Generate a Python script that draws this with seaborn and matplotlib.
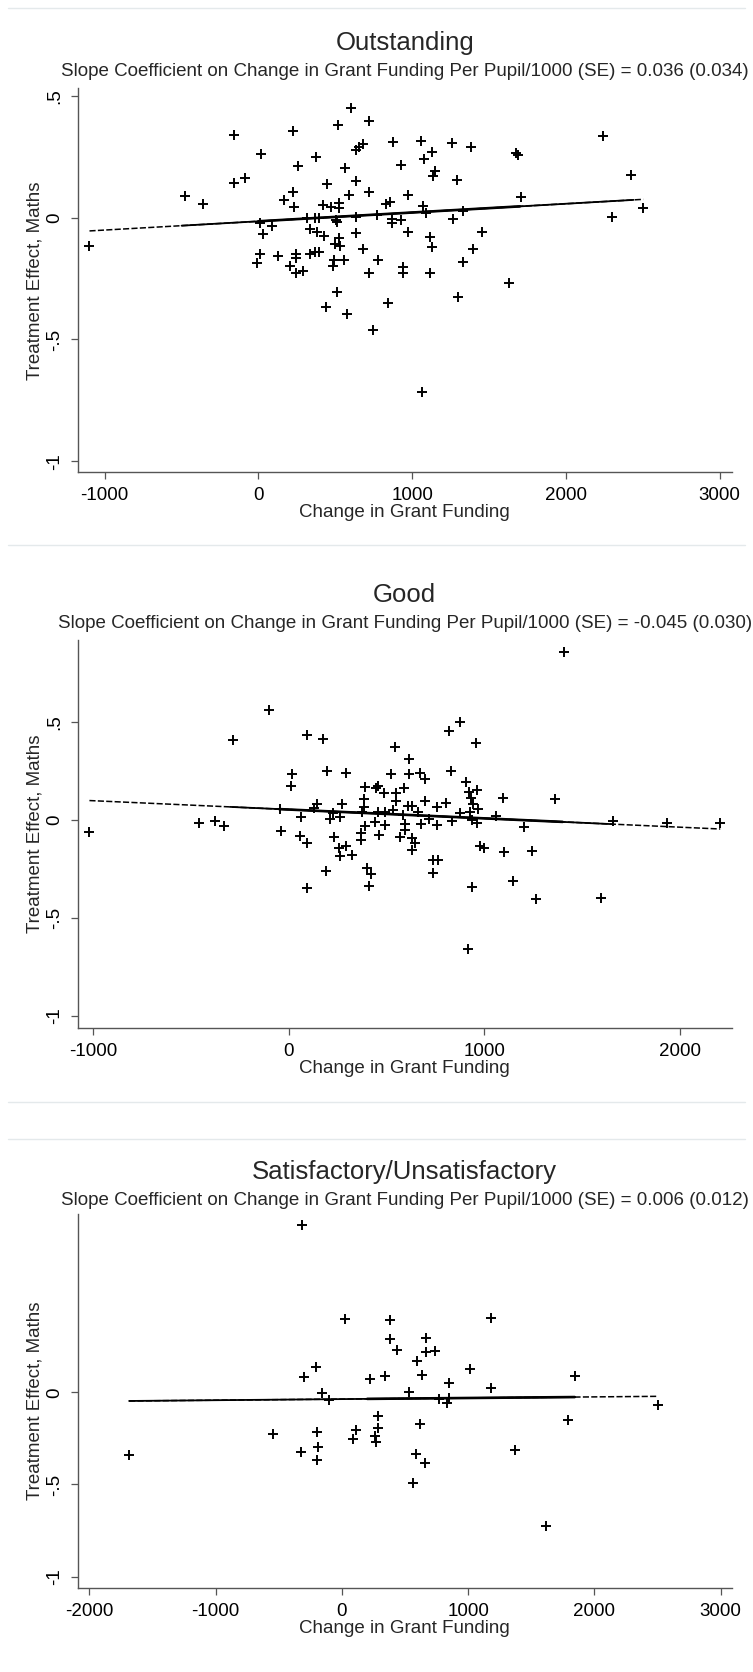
"""
Treatment effect on maths vs change in grant funding, by inspection grade.
Three stacked scatter panels with the fitted OLS line.
"""

import numpy as np
import pandas as pd
import matplotlib
matplotlib.use("Agg")
import matplotlib.pyplot as plt
from matplotlib.lines import Line2D
import seaborn as sns

# ---- data -----------------------------------------------------------------
# Outstanding
out_x = [-1099, -475, -358, -158, -158, -86, 18, 7, 29, 87, 7, -10, 126, 224, 254,
         167, 224, 232, 245, 245, 206, 241, 289, 332, 369, 397, 373, 315, 370, 395,
         332, 380, 429, 419, 471, 445, 518, 601, 722, 564, 635, 655, 679, 635, 588,
         722, 527, 527, 505, 510, 635, 635, 527, 501, 531, 492, 557, 488, 683, 780,
         722, 878, 926, 830, 856, 770, 867, 867, 926, 975, 975, 943, 939,
         2243, 2421, 2503, 2300, 1706, 1675, 1685, 1058, 1257, 1383, 1127, 1079, 1149,
         1138, 1290, 1069, 1090, 1329, 1268, 1116, 1129, 1452, 1398, 1329, 1116,
         514, 438, 575, 845, 748, 1298, 1632, 1062]
out_y = [-0.115, 0.089, 0.056, 0.338, 0.141, 0.162, 0.261, -0.023, -0.067, -0.034, -0.148,
         -0.187, -0.156, 0.356, 0.212, 0.073, 0.104, 0.045, -0.148, -0.164, -0.198, -0.228,
         -0.219, -0.150, -0.142, -0.140, 0.248, -0.003, -0.003, -0.003, -0.046, -0.057,
         -0.074, 0.052, 0.043, 0.138, 0.381, 0.449, 0.398, 0.205, 0.278, 0.291, 0.301,
         0.149, 0.093, 0.107, 0.062, 0.038, -0.009, -0.016, 0.004, -0.064, -0.082, -0.109,
         -0.115, -0.174, -0.174, -0.197, -0.130, -0.174, -0.226, 0.311, 0.216, 0.056, 0.066,
         0.011, -0.007, -0.023, -0.009, -0.057, 0.093, -0.201, -0.226,
         0.333, 0.175, 0.038, 0.002, 0.086, 0.267, 0.257, 0.316, 0.305, 0.289, 0.270,
         0.240, 0.193, 0.172, 0.155, 0.049, 0.021, 0.029, -0.007, -0.080, -0.119, -0.057,
         -0.130, -0.183, -0.228,
         -0.304, -0.367, -0.394, -0.349, -0.462, -0.327, -0.269, -0.717]

# Good
good_x = [-1020, -460, -380, -331, -287, -101, -38, -45, 17, 13, 61, 58, 92, 94, 174,
          94, 191, 194, 143, 126, 211,
          1405, 873, 820, 958, 544, 612, 293, 520, 615, 672, 697, 830, 907, 921, 963,
          931, 944, 965, 924, 876, 936, 962, 1095, 1060, 1362, 1200, 979, 999, 1098,
          1241, 1144, 1265, 934, 916, 737, 760, 737, 834, 803, 757, 694, 658, 719, 757,
          677, 610, 630, 591, 583, 593, 595, 566, 632, 646, 632, 549, 549, 530, 489,
          458, 447, 484, 387, 382, 382, 373, 455, 438, 489, 390, 370, 370, 462, 271,
          262, 228, 232, 293, 257, 259, 325, 399, 421, 412,
          1660, 1934, 2206, 1596]
good_y = [-0.063, -0.014, -0.005, -0.029, 0.407, 0.560, -0.054, 0.058, 0.233, 0.175, 0.014,
          -0.082, -0.116, 0.435, 0.415, -0.347, -0.260, 0.250, 0.082, 0.060, 0.003,
          0.857, 0.500, 0.454, 0.395, 0.374, 0.311, 0.238, 0.233, 0.233, 0.238, 0.208,
          0.250, 0.196, 0.141, 0.153, 0.114, 0.082, 0.056, 0.042, 0.034, 0.000, -0.014,
          0.111, 0.022, 0.107, -0.034, -0.131, -0.145, -0.165, -0.156, -0.311, -0.401,
          -0.342, -0.660, -0.204, -0.204, -0.272, -0.003, 0.088, 0.065, 0.097, 0.042,
          0.003, -0.026, -0.022, 0.073, 0.073, 0.165, 0.026, -0.022, -0.051, -0.088,
          -0.093, -0.119, -0.153, 0.139, 0.099, 0.051, 0.042, 0.175, 0.165, 0.139, 0.170,
          0.106, 0.068, 0.039, 0.039, -0.009, -0.026, -0.031, -0.068, -0.102, -0.077,
          0.080, 0.017, 0.034, -0.085, -0.133, -0.145, -0.184, -0.179, -0.247, -0.277,
          -0.335,
          -0.003, -0.014, -0.017, -0.396]

# Satisfactory/Unsatisfactory
sat_x = [-317, 21, -206, -299, 219, -159, -106, -1686, -543, -198, -186, -323, -198,
         113, 84, 283, 283, 259, 272, 383, 1183, 378, 437, 667, 669, 741, 595, 635,
         344, 1013, 846, 529, 1183, 1844, 772, 846, 833, 2500, 616, 1794, 1367, 587,
         661, 560, 1619]
sat_y = [0.907, 0.397, 0.139, 0.085, 0.070, -0.002, -0.042, -0.340, -0.226, -0.213,
         -0.295, -0.322, -0.367, -0.204, -0.253, -0.129, -0.192, -0.237, -0.271, 0.392,
         0.401, 0.289, 0.229, 0.296, 0.220, 0.226, 0.170, 0.094, 0.090, 0.125, 0.049,
         0.000, 0.022, 0.090, -0.036, -0.033, -0.060, -0.069, -0.172, -0.150, -0.313,
         -0.335, -0.382, -0.494, -0.725]

titles = ["Outstanding", "Good", "Satisfactory/Unsatisfactory"]
slopes = [0.036, -0.045, 0.006]        # per 1000 of funding
slope_se = [0.034, 0.030, 0.012]
intercepts = [-0.015, 0.053, -0.037]

# ---- layout (pixels on a 753 x 1672 canvas) --------------------------------
W, H = 753, 1672
AX_LEFT, AX_RIGHT = 77.5, 732
panels = [
    dict(x=out_x, y=out_y, top=88.5, bottom=472, xlim=(-1177, 3080), ylim=(-1.044, 0.53),
         xticks=[-1000, 0, 1000, 2000, 3000], yticks=[0.5, 0, -0.5, -1],
         title_y=43, sub_y=71.5, thin=(-500, 2440), thick=(0, 1700)),
    dict(x=good_x, y=good_y, top=640, bottom=1027.7, xlim=(-1081, 2266), ylim=(-1.06, 0.918),
         xticks=[-1000, 0, 1000, 2000], yticks=[0.5, 0, -0.5, -1],
         title_y=595, sub_y=624, thin=(-300, 1660), thick=(-50, 1400)),
    dict(x=sat_x, y=sat_y, top=1214, bottom=1587.7, xlim=(-2095, 3090), ylim=(-1.06, 0.967),
         xticks=[-2000, -1000, 0, 1000, 2000, 3000], yticks=[0, -0.5, -1],
         title_y=1172, sub_y=1200.5, thin=(-1700, 1844), thick=(200, 1844)),
]
SEPARATORS = [8, 545, 1102, 1139]

AXIS_GREY = "#555555"
FS = 13.5

sns.set_style("ticks")
plt.rcParams["font.family"] = ["Liberation Sans", "DejaVu Sans"]


def ytick_label(v):
    if v == 0:
        return "0"
    return f"{v:g}".replace("0.", ".")


def fit_segment(ax, icpt, b, lo, hi, **kw):
    seg = pd.DataFrame({"x": [lo, hi]})
    seg["y"] = icpt + b * seg["x"]
    sns.lineplot(data=seg, x="x", y="y", color="black", ax=ax, **kw)


fig = plt.figure(figsize=(W / 100, H / 100), dpi=100)
fig.patch.set_facecolor("white")

for i, p in enumerate(panels):
    rect = [AX_LEFT / W, 1 - p["bottom"] / H, (AX_RIGHT - AX_LEFT) / W, (p["bottom"] - p["top"]) / H]
    ax = fig.add_axes(rect)

    df = pd.DataFrame({"x": p["x"], "y": p["y"]})
    sns.scatterplot(data=df, x="x", y="y", marker="+", color="black", s=55,
                    linewidth=1.4, ax=ax, legend=False)

    # fitted line: dashed over the full data range, solid and heavier where the data are dense
    xmin, xmax = df["x"].min(), df["x"].max()
    b = slopes[i] / 1000
    fit_segment(ax, intercepts[i], b, xmin, xmax, linewidth=1.1, linestyle=(0, (4, 1.5)))
    fit_segment(ax, intercepts[i], b, max(xmin, p["thin"][0]), min(xmax, p["thin"][1]),
                linewidth=1.3)
    fit_segment(ax, intercepts[i], b, max(xmin, p["thick"][0]), min(xmax, p["thick"][1]),
                linewidth=1.9)

    ax.set_xlim(*p["xlim"])
    ax.set_ylim(*p["ylim"])
    ax.set_xticks(p["xticks"])
    ax.set_xticklabels([str(t) for t in p["xticks"]], fontsize=FS)
    ax.set_yticks(p["yticks"])
    ax.set_yticklabels([ytick_label(t) for t in p["yticks"]], fontsize=FS,
                       rotation=90, va="center")

    for side in ["top", "right"]:
        ax.spines[side].set_visible(False)
    for side in ["left", "bottom"]:
        ax.spines[side].set_color(AXIS_GREY)
        ax.spines[side].set_linewidth(1.0)
    ax.tick_params(direction="out", length=5, width=0.9, color=AXIS_GREY,
                   labelcolor="black")
    ax.tick_params(axis="x", pad=6)
    ax.tick_params(axis="y", pad=5)

    ax.set_xlabel("Change in Grant Funding", fontsize=FS, labelpad=0)
    ax.set_ylabel("Treatment Effect, Maths", fontsize=FS, labelpad=2)

    xc = (AX_LEFT + AX_RIGHT) / 2 / W
    fig.text(xc, 1 - p["title_y"] / H, titles[i], ha="center", va="center", fontsize=18.5)
    sub = (f"Slope Coefficient on Change in Grant Funding Per Pupil/1000 (SE) = "
           f"{slopes[i]:.3f} ({slope_se[i]:.3f})")
    fig.text(xc, 1 - p["sub_y"] / H, sub, ha="center", va="center", fontsize=FS)

# faint frame lines between the stacked graphs
for yy in SEPARATORS:
    fig.add_artist(Line2D([8 / W, 745 / W], [1 - yy / H] * 2, color="#e4e9eb", linewidth=1.0))

fig.savefig("out.png", dpi=100, facecolor="white")
